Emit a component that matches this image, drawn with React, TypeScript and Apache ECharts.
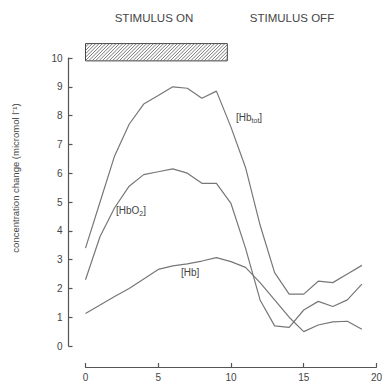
import React, { useEffect, useRef } from "react";
import * as echarts from "echarts";

// time (s)
const timeSec = [0, 1, 2, 3, 4, 5, 6, 7, 8, 9, 10, 11, 12, 13, 14, 15, 16, 17, 18, 19];
// total haemoglobin [Hb_tot]
const hbTot = [3.4, 5.0, 6.6, 7.7, 8.4, 8.7, 9.0, 8.95, 8.6, 8.85, 7.6, 6.2, 4.2, 2.55, 1.8, 1.8, 2.25, 2.2, 2.5, 2.8];
// oxy-haemoglobin [HbO2]
const hbO2 = [2.3, 3.8, 4.8, 5.55, 5.95, 6.05, 6.15, 6.0, 5.65, 5.65, 4.95, 3.4, 1.6, 0.7, 0.65, 1.25, 1.55, 1.37, 1.6, 2.15];
// deoxy-haemoglobin [Hb]
const hb = [1.13, 1.42, 1.72, 2.0, 2.33, 2.66, 2.78, 2.85, 2.95, 3.07, 2.93, 2.73, 2.2, 1.6, 1.0, 0.5, 0.73, 0.84, 0.86, 0.58];
// stimulus period: start, end, bar low, bar high
const stimulusBar = [[0, 9.75, 9.9, 10.5]];

const LINE = "#777";
const AXIS = "#555";
const TXT = "#444";
const FONT = "Liberation Sans, Arial, sans-serif";

export default function App() {
  const ref = useRef<HTMLDivElement>(null);
  useEffect(() => {
    if (!ref.current) return;
    const chart = echarts.init(ref.current, null, { renderer: "svg" });
    const mk = (arr: number[]) => timeSec.map((t, i) => [t, arr[i]]);
    const lineSeries = (name: string, arr: number[]) => ({
      name,
      type: "line",
      data: mk(arr),
      symbol: "none",
      smooth: false,
      lineStyle: { color: LINE, width: 1.2 },
      z: 3,
    });
    chart.setOption({
      animation: false,
      backgroundColor: "#fff",
      grid: { left: 85.5, right: 7, top: 58, bottom: 40 },
      xAxis: {
        type: "value",
        min: 0,
        max: 20,
        interval: 5,
        offset: 21,
        axisLine: { show: true, onZero: false, lineStyle: { color: AXIS, width: 1.2 } },
        axisTick: { show: true, inside: true, length: 4, lineStyle: { color: AXIS, width: 1.2 } },
        axisLabel: { color: TXT, fontSize: 10, fontFamily: FONT, margin: 5 },
        splitLine: { show: false },
      },
      yAxis: {
        type: "value",
        min: 0,
        max: 10,
        interval: 1,
        offset: 17,
        axisLine: { show: true, onZero: false, lineStyle: { color: AXIS, width: 1.2 } },
        axisTick: { show: true, inside: true, length: 4, lineStyle: { color: AXIS, width: 1.2 } },
        axisLabel: { color: TXT, fontSize: 10, fontFamily: FONT, margin: 6 },
        splitLine: { show: false },
      },
      series: [
        lineSeries("[Hb_tot]", hbTot),
        lineSeries("[HbO2]", hbO2),
        lineSeries("[Hb]", hb),
        {
          type: "custom",
          clip: false,
          data: stimulusBar,
          encode: { x: [0, 1], y: [2, 3] },
          renderItem: (params: any, api: any) => {
            const p0 = api.coord([api.value(0), api.value(3)]);
            const p1 = api.coord([api.value(1), api.value(2)]);
            const x0 = p0[0], y0 = p0[1], x1 = p1[0], y1 = p1[1];
            const h = y1 - y0;
            const step = 3.4;
            const children: any[] = [
              {
                type: "rect",
                shape: { x: x0, y: y0, width: x1 - x0, height: h },
                style: { fill: "#fff", stroke: "#444", lineWidth: 1 },
              },
            ];
            for (let s = x0 - h; s < x1; s += step) {
              let sx = s, sy = y1, ex = s + h, ey = y0;
              if (sx < x0) { sy = y1 - (x0 - sx); sx = x0; }
              if (ex > x1) { ey = y0 + (ex - x1); ex = x1; }
              if (ex <= sx) continue;
              children.push({
                type: "line",
                shape: { x1: sx, y1: sy, x2: ex, y2: ey },
                style: { stroke: "#666", lineWidth: 0.9 },
              });
            }
            return { type: "group", children };
          },
          z: 4,
        },
      ],
      graphic: [
        {
          type: "text",
          x: 154,
          y: 18,
          style: { text: "STIMULUS ON", fill: TXT, font: `11.5px ${FONT}`, align: "center", verticalAlign: "middle" },
        },
        {
          type: "text",
          x: 292,
          y: 18,
          style: { text: "STIMULUS OFF", fill: TXT, font: `11.5px ${FONT}`, align: "center", verticalAlign: "middle" },
        },
        {
          type: "text",
          x: 15,
          y: 178,
          rotation: Math.PI / 2,
          style: {
            text: "concentration change (micromol l\u207B\u00B9)",
            fill: TXT,
            font: `9.5px ${FONT}`,
            align: "center",
            verticalAlign: "middle",
          },
        },
        {
          type: "text",
          x: 236,
          y: 117,
          style: {
            text: "[Hb{s|tot}]",
            fill: TXT,
            font: `10px ${FONT}`,
            verticalAlign: "middle",
            rich: { s: { fontSize: 7, fill: TXT, padding: [6, 0, 0, 0] } },
          },
        },
        {
          type: "text",
          x: 116,
          y: 210,
          style: {
            text: "[HbO{s|2}]",
            fill: TXT,
            font: `10px ${FONT}`,
            verticalAlign: "middle",
            rich: { s: { fontSize: 7, fill: TXT, padding: [6, 0, 0, 0] } },
          },
        },
        {
          type: "text",
          x: 181,
          y: 272,
          style: { text: "[Hb]", fill: TXT, font: `10px ${FONT}`, verticalAlign: "middle" },
        },
      ],
    });
    return () => chart.dispose();
  }, []);
  return (
    <div
      ref={ref}
      style={{ position: "fixed", left: 0, top: 0, width: 385, height: 386, background: "#fff" }}
    />
  );
}
